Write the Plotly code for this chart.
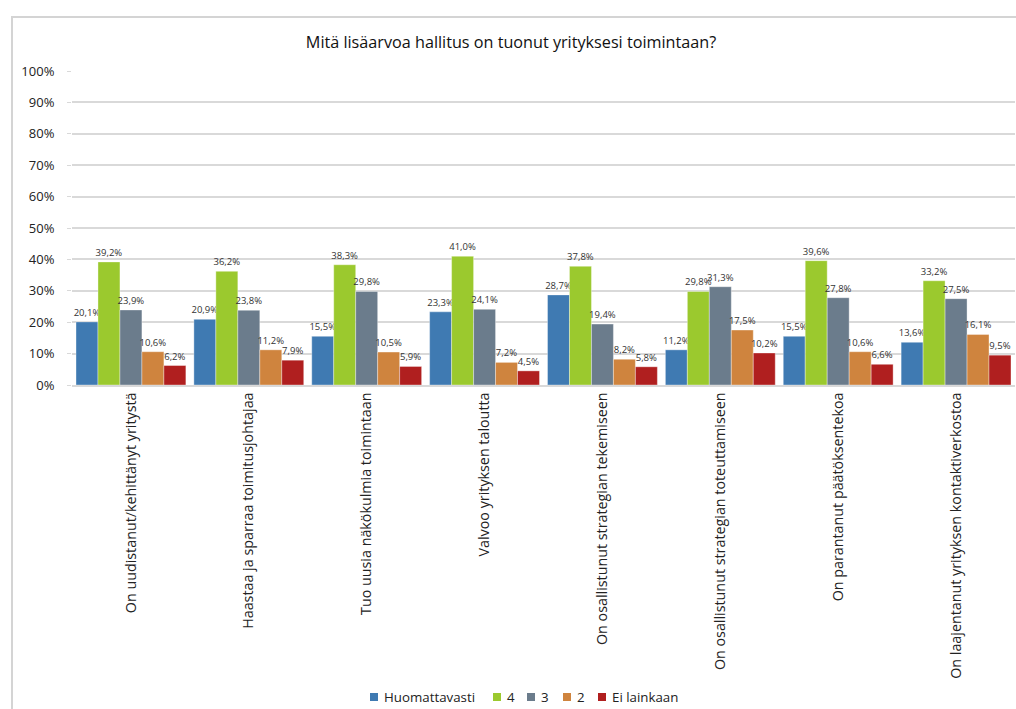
import plotly.graph_objects as go

categories = [
    "On uudistanut/kehittänyt yritystä",
    "Haastaa ja sparraa toimitusjohtajaa",
    "Tuo uusia näkökulmia toimintaan",
    "Valvoo yrityksen taloutta",
    "On osallistunut strategian tekemiseen",
    "On osallistunut strategian toteuttamiseen",
    "On parantanut päätöksentekoa",
    "On laajentanut yrityksen kontaktiverkostoa",
]

series_names = ["Huomattavasti", "4", "3", "2", "Ei lainkaan"]

huomattavasti = [20.1, 20.9, 15.5, 23.3, 28.7, 11.2, 15.5, 13.6]
neljä = [39.2, 36.2, 38.3, 41.0, 37.8, 29.8, 39.6, 33.2]
kolme = [23.9, 23.8, 29.8, 24.1, 19.4, 31.3, 27.8, 27.5]
kaksi = [10.6, 11.2, 10.5, 7.2, 8.2, 17.5, 10.6, 16.1]
ei_lainkaan = [6.2, 7.9, 5.9, 4.5, 5.8, 10.2, 6.6, 9.5]

y_ticks = [0, 10, 20, 30, 40, 50, 60, 70, 80, 90, 100]
y_tick_labels = [f"{t}%" for t in y_ticks]

series_values = [huomattavasti, neljä, kolme, kaksi, ei_lainkaan]
colors = ["#3F7AB2", "#9BC92E", "#6B7C8C", "#CF843E", "#B01F1F"]

FONT = "'Open Sans', 'Noto Sans', sans-serif"


def fmt(v):
    return f"{v:.1f}".replace(".", ",") + "%"


fig = go.Figure()
for name, vals, col in zip(series_names, series_values, colors):
    fig.add_trace(go.Bar(
        name=name,
        x=categories,
        y=vals,
        marker=dict(color=col, line=dict(width=0.6, color="rgba(255,255,255,0.6)")),
        text=[fmt(v) for v in vals],
        textposition="outside",
        constraintext="none",
        textfont=dict(size=9.5, color="#333333", family=FONT),
        cliponaxis=False,
        showlegend=False,
    ))

# plot-area pixel geometry (figure 1016 x 709)
L, R, T, B = 72, 1, 71, 324
W = 1016 - L - R
H = 709 - T - B


def px_x(p):
    return (p - L) / W


def px_y(p):
    return (709 - B - p) / H


# compact legend row along the bottom: swatch + label per series
legend_swatch_x = [370, 493, 527, 563, 598]
legend_y = 697
shapes = [
    dict(type="rect", xref="paper", yref="paper",
         x0=px_x(12), x1=px_x(1030), y0=px_y(730), y1=px_y(17),
         line=dict(color="#D4D4D4", width=2), fillcolor="rgba(0,0,0,0)",
         layer="below"),
]
annotations = []
for name, col, sx in zip(series_names, colors, legend_swatch_x):
    shapes.append(dict(
        type="rect", xref="paper", yref="paper",
        x0=px_x(sx), x1=px_x(sx + 8), y0=px_y(legend_y + 4), y1=px_y(legend_y - 4),
        line=dict(width=0), fillcolor=col,
    ))
    annotations.append(dict(
        text=name, xref="paper", yref="paper",
        x=px_x(sx + 12), y=px_y(legend_y), xanchor="left", yanchor="middle",
        showarrow=False, font=dict(size=13.3, color="#222222", family=FONT),
    ))

fig.update_layout(
    width=1016,
    height=709,
    margin=dict(l=L, r=R, t=T, b=B),
    paper_bgcolor="white",
    plot_bgcolor="white",
    barmode="group",
    bargap=0.068,
    bargroupgap=0,
    font=dict(family=FONT, color="#222222"),
    title=dict(
        text="Mitä lisäarvoa hallitus on tuonut yrityksesi toimintaan?",
        x=px_x(511), xref="paper", xanchor="center",
        y=1 - 42 / 709, yref="container", yanchor="middle",
        font=dict(size=16.2, color="#111111", family=FONT),
    ),
    showlegend=False,
    shapes=shapes,
    annotations=annotations,
)

fig.update_yaxes(
    range=[0, 100],
    tickmode="array",
    tickvals=y_ticks,
    ticktext=y_tick_labels,
    tickfont=dict(size=13, color="#222222", family=FONT),
    showgrid=True,
    gridcolor="#D9D9D9",
    gridwidth=1.5,
    zeroline=False,
    ticks="outside",
    ticklen=4,
    tickcolor="#D9D9D9",
    ticklabelstandoff=10,
)

fig.update_xaxes(
    tickangle=-90,
    tickfont=dict(size=14.3, color="#222222", family=FONT),
    showline=True,
    linecolor="#D9D9D9",
    linewidth=1.5,
    ticks="",
)

fig.write_html("out.html")
